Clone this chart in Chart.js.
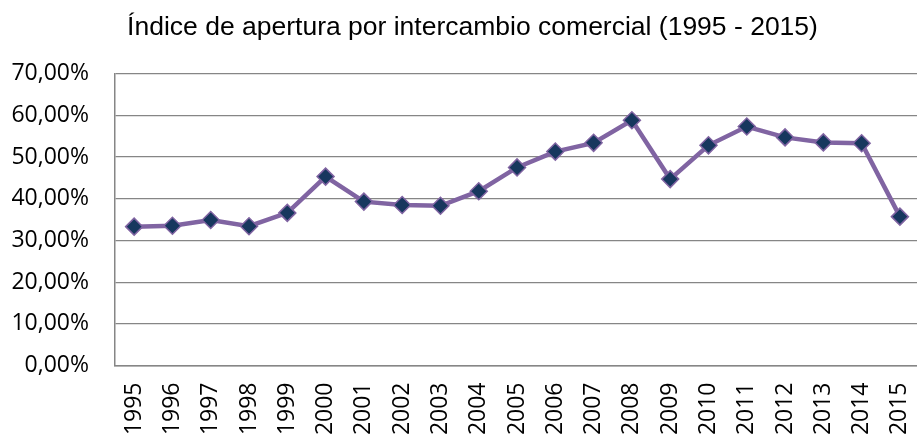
<!DOCTYPE html>
<html>
<head>
<meta charset="utf-8">
<script src="https://cdn.jsdelivr.net/npm/chart.js@4/dist/chart.umd.min.js"></script>
<style>
  html, body { margin: 0; padding: 0; overflow: hidden; background: #fff; }
  #wrap { width: 945px; height: 480px; }
</style>
</head>
<body>
<div id="wrap"><canvas id="c" width="945" height="480"></canvas></div>
<script>
const chartTitle = 'Índice de apertura por intercambio comercial (1995 - 2015)';
const years = ['1995','1996','1997','1998','1999','2000','2001','2002','2003','2004','2005','2006','2007','2008','2009','2010','2011','2012','2013','2014','2015'];
const apertura = [33.3, 33.5, 34.9, 33.4, 36.6, 45.3, 39.3, 38.5, 38.3, 41.8, 47.5, 51.3, 53.4, 58.8, 44.7, 52.8, 57.3, 54.7, 53.5, 53.3, 35.7];
const yTicks = [0, 10, 20, 30, 40, 50, 60, 70];

const tickFont = { family: '"Open Sans", "Liberation Sans", sans-serif', size: 23 };

new Chart(document.getElementById('c'), {
  type: 'line',
  data: {
    labels: years,
    datasets: [{
      data: apertura,
      borderColor: '#8064A2',
      borderWidth: 4.5,
      pointStyle: 'rectRot',
      pointRadius: 8.5,
      pointHoverRadius: 8.5,
      pointBackgroundColor: '#17375E',
      pointBorderColor: '#8064A2',
      pointBorderWidth: 1.5,
      tension: 0,
      fill: false,
      yAxisID: 'y'
    }]
  },
  options: {
    responsive: false,
    animation: false,
    layout: { padding: 0 },
    plugins: {
      legend: { display: false },
      tooltip: { enabled: false },
      title: {
        display: true,
        text: chartTitle,
        color: '#000',
        font: { family: '"Liberation Sans", Arial, sans-serif', size: 26.5, weight: 'normal', lineHeight: 1.2 },
        padding: { top: 11.5, bottom: 30.3 }
      }
    },
    scales: {
      x: {
        type: 'category',
        offset: true,
        grid: { display: false, drawTicks: false },
        border: { display: true, color: '#868686', width: 1.5 },
        ticks: {
          color: '#000',
          font: tickFont,
          minRotation: 90,
          maxRotation: 90,
          autoSkip: false,
          padding: 17
        },
        afterFit: s => { s.height = 480 - 365.5; }
      },
      y: {
        position: 'left',
        min: 0,
        max: 70,
        afterBuildTicks: s => { s.ticks = yTicks.map(v => ({ value: v })); },
        grid: { color: '#868686', lineWidth: 1.2, drawTicks: false },
        border: { display: true, color: '#868686', width: 1.5 },
        ticks: {
          color: '#000',
          font: tickFont,
          padding: 26,
          callback: v => v.toFixed(2).replace('.', ',') + '%'
        },
        afterFit: s => { s.width = 115; }
      },
      pad: {
        position: 'right',
        display: true,
        grid: { display: false, drawOnChartArea: false, drawTicks: false },
        border: { display: false },
        ticks: { display: false },
        afterFit: s => { s.width = 20; }
      }
    }
  }
});
</script>
</body>
</html>
